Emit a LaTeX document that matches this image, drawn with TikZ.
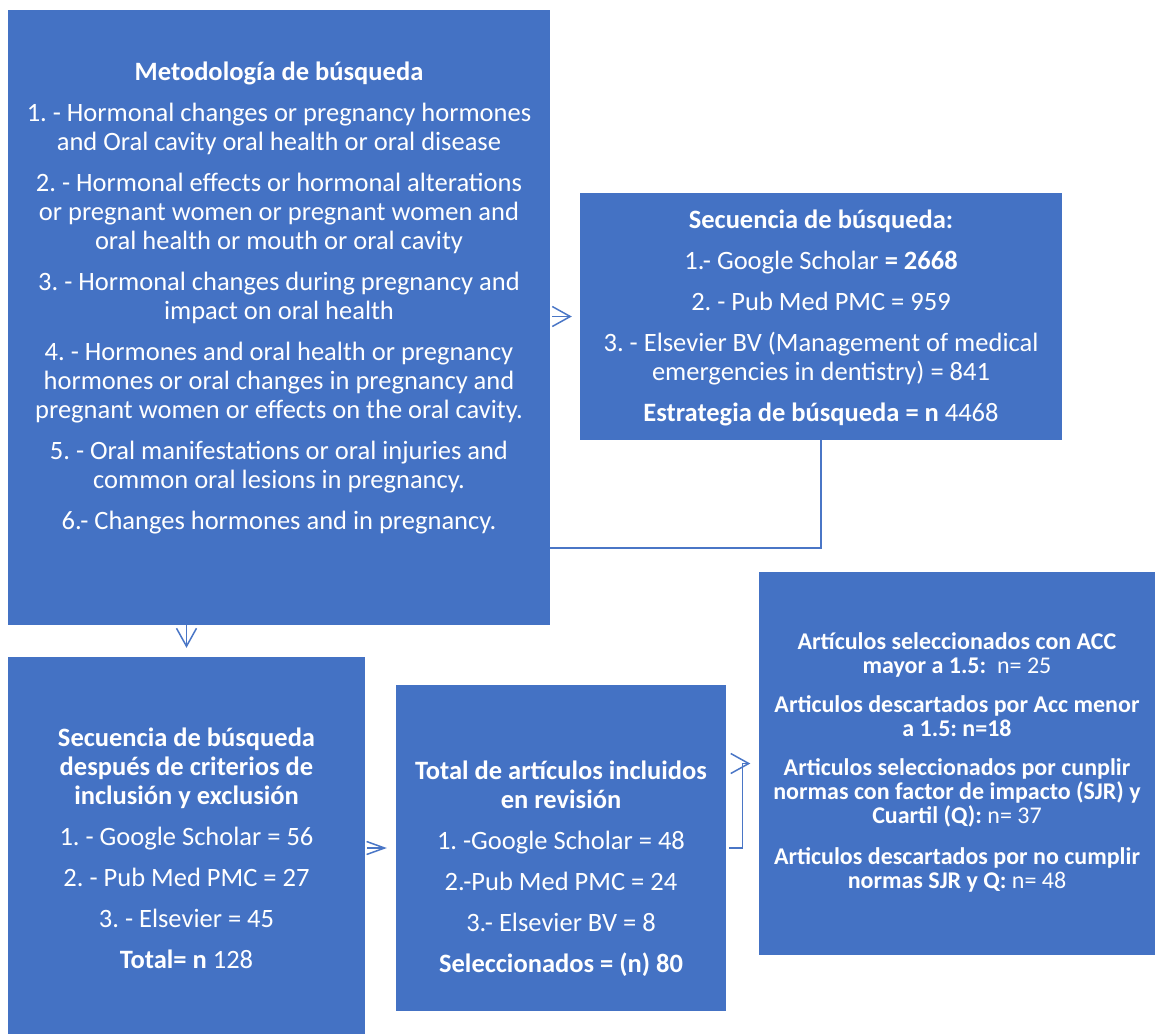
\documentclass[tikz,border=0pt]{standalone}
\usepackage{fontspec}
\setmainfont{Carlito}
\usetikzlibrary{arrows.meta}
\definecolor{boxblue}{HTML}{4472C4}
\definecolor{linkblue}{HTML}{4A76C6}
\frenchspacing
\begin{document}
\begin{tikzpicture}[x=1pt,y=-1pt,
  panel/.style={rectangle, fill=boxblue, draw=none, inner sep=0pt},
  txt/.style={text=white, align=center, inner sep=0pt, font=\fontsize{26.5}{29}\selectfont},
  small/.style={font=\fontsize{24}{24}\selectfont},
  link/.style={draw=linkblue, line width=1.5pt},
  arr/.style={link, -{Straight Barb[length=18pt,width=20pt,line width=1.5pt]}},
  arrs/.style={link, -{Straight Barb[length=18pt,width=13pt,line width=1.5pt]}}]
\useasboundingbox (0,0) rectangle (1156,1034);

% panels
\node[panel, minimum width=542pt, minimum height=615pt] (A) at (279,317.5) {};
\node[panel, minimum width=482pt, minimum height=247pt] (B) at (821,316.5) {};
\node[panel, minimum width=357pt, minimum height=377pt] (C) at (186.5,845.5) {};
\node[panel, minimum width=330pt, minimum height=326pt] (D) at (561,848) {};
\node[panel, minimum width=396pt, minimum height=383pt] (E) at (957,763.5) {};

% panel texts
\node[txt] (tA) at (279,297.5) {%
\textbf{Metodología de búsqueda}\\[12pt]
1. - Hormonal changes or pregnancy hormones\\
and Oral cavity oral health or oral disease\\[12pt]
2. - Hormonal effects or hormonal alterations\\
or pregnant women or pregnant women and\\
oral health or mouth or oral cavity\\[12pt]
3. - Hormonal changes during pregnancy and\\
impact on oral health\\[12pt]
4. - Hormones and oral health or pregnancy\\
hormones or oral changes in pregnancy and\\
pregnant women or effects on the oral cavity.\\[12pt]
5. - Oral manifestations or oral injuries and\\
common oral lesions in pregnancy.\\[12pt]
6.- Changes hormones and in pregnancy.};

\node[txt] (tB) at (821,318) {%
\textbf{Secuencia de búsqueda:}\\[12pt]
1.- Google Scholar \textbf{= 2668}\\[12pt]
2. - Pub Med PMC = 959\\[12pt]
3. - Elsevier BV (Management of medical\\
emergencies in dentistry) = 841\\[12pt]
\textbf{Estrategia de búsqueda = n} 4468};

\node[txt] (tC) at (186.5,848) {%
\textbf{Secuencia de búsqueda}\\
\textbf{después de criterios de}\\
\textbf{inclusión y exclusión}\\[12pt]
1. - Google Scholar = 56\\[12pt]
2. - Pub Med PMC = 27\\[12pt]
3. - Elsevier = 45\\[12pt]
\textbf{Total= n} 128};

\node[txt] (tD) at (561,869) {%
\textbf{Total de artículos incluidos}\\
\textbf{en revisión}\\[12pt]
1. -Google Scholar = 48\\[12pt]
2.-Pub Med PMC = 24\\[12pt]
3.- Elsevier BV = 8\\[12pt]
\textbf{Seleccionados = (n) 80}};

\node[txt, small] (tE) at (957,762.5) {%
\textbf{Artículos seleccionados con ACC}\\
\textbf{mayor a 1.5:}\ \ n= 25\\[15pt]
\textbf{Articulos descartados por Acc menor}\\
\textbf{a 1.5: n=18}\\[15pt]
\textbf{Articulos seleccionados por cunplir}\\
\textbf{normas con factor de impacto (SJR) y}\\
\textbf{Cuartil (Q):} n= 37\\[17pt]
\textbf{Articulos descartados por no cumplir}\\
\textbf{normas SJR y Q:} n= 48};

% connectors
\coordinate (ret) at (0,548);
\draw[arr, shorten <=2pt, shorten >=8pt] (A.east |- B.west) -- (B.west);
\draw[link] (B.south) |- (A.east |- ret);
\draw[arr, shorten >=9pt] (C.north |- A.south) -- (C.north);
\draw[arrs, shorten <=2pt, shorten >=9pt] (C.east |- D.west) -- (D.west);
\draw[arr, shorten <=3pt, shorten >=8.5pt] (D.east) -- ++(16.5,0) |- (E.west);
\end{tikzpicture}
\end{document}
